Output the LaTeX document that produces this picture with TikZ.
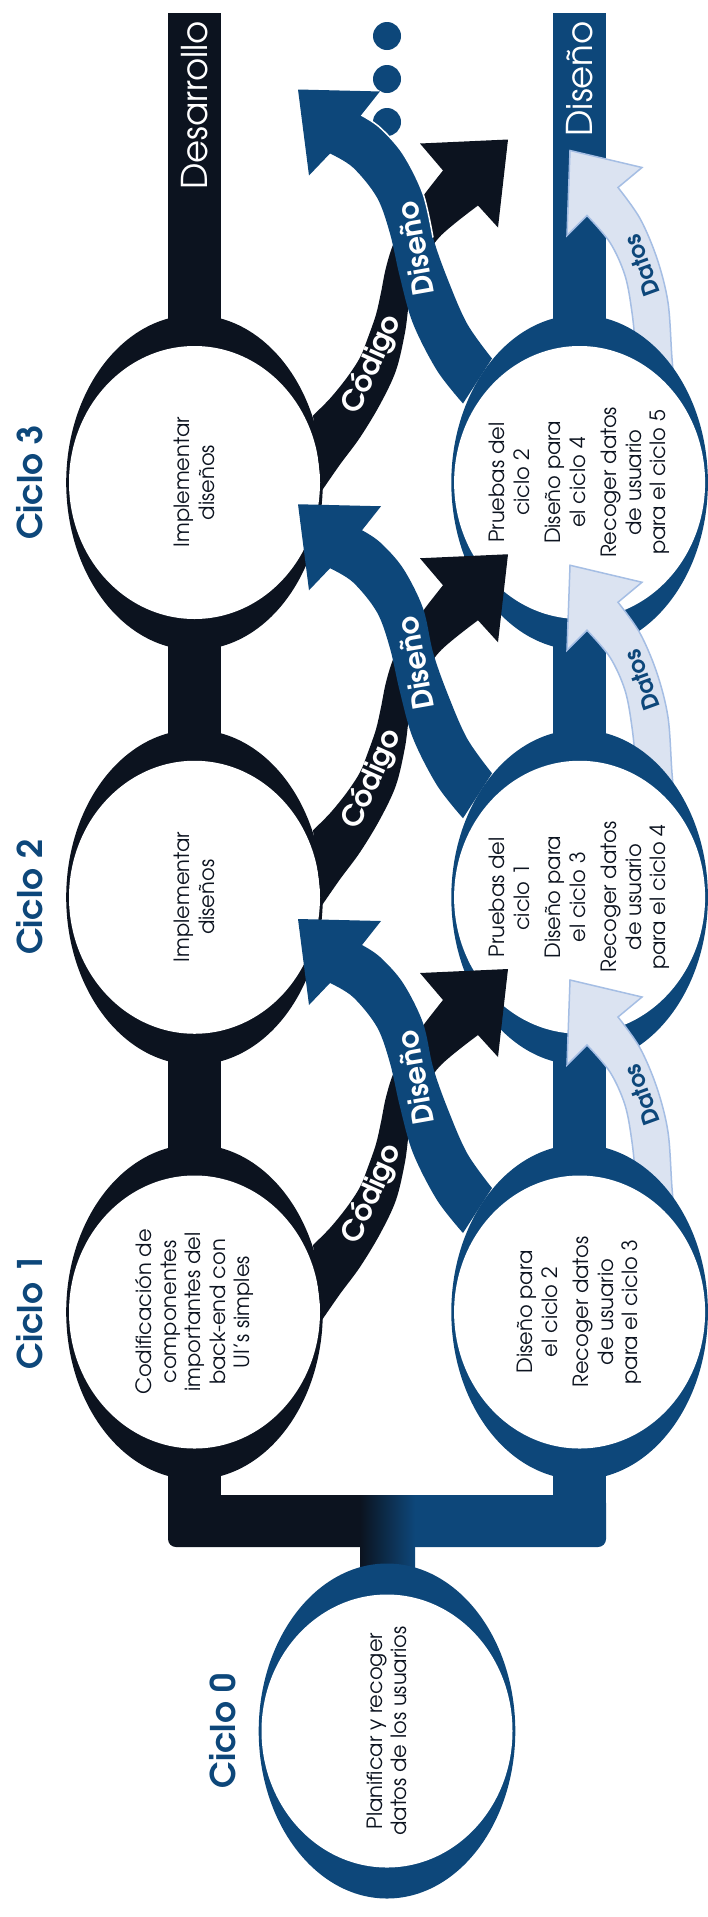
\documentclass[tikz,border=0pt]{standalone}
\usepackage{fontspec}
\setmainfont{texgyreadventor}[Extension=.otf,UprightFont=*-regular,BoldFont=*-bold,ItalicFont=*-italic,BoldItalicFont=*-bolditalic]
\definecolor{dk}{RGB}{12,19,31}
\definecolor{bl}{RGB}{13,71,122}
\definecolor{dfill}{RGB}{219,227,241}
\definecolor{dline}{RGB}{165,190,228}
\newcommand{\ringnode}[3]{%
  \fill[#3] (#1,#2) ellipse [x radius=128.3pt, y radius=167.5pt];
  \fill[white] (#1,#2) ellipse [x radius=125.5pt, y radius=136.5pt];}
\newcommand{\drawDatos}[1]{%
  \begin{scope}[shift={(0,#1)}]
  \filldraw[fill=dfill, draw=dline, line width=1.5pt, line join=miter]
    plot[smooth,tension=0.55] coordinates {(676,-80) (672,-124) (668,-180) (657,-224) (640,-264) (618,-295)}
    -- (642,-315) -- (570,-332) -- (567,-247)
    -- plot[smooth,tension=0.55] coordinates {(587,-267) (610,-240) (625,-207) (632,-170) (636,-130) (638,-100)}
    -- cycle;
  \end{scope}}
\begin{document}
\begin{tikzpicture}[x=1pt,y=-1pt,
  body/.style={rotate=90, align=center, font=\fontsize{21}{24.5}\selectfont, text=dk, inner sep=0pt},
  ciclo/.style={rotate=90, font=\fontsize{34}{40}\selectfont\bfseries, text=bl, inner sep=0pt},
  barlabel/.style={rotate=90, anchor=east, font=\fontsize{35.5}{40}\selectfont, text=white, inner sep=0pt},
  arrlabel/.style={font=\fontsize{29}{34}\selectfont\bfseries, text=white, inner sep=0pt},
  datlabel/.style={font=\fontsize{23}{28}\selectfont\bfseries, text=bl, inner sep=0pt}]
\useasboundingbox (0,0) rectangle (707,1917);
\fill[white] (0,0) rectangle (707,1917);
% bars
\fill[dk] (168,13) rectangle (221,1520);
\fill[dk, rounded corners=8pt] (168,1495) rectangle (372,1547);
\fill[bl] (553,13) rectangle (606,1520);
\fill[bl, rounded corners=8pt] (403,1495) rectangle (606,1547);
\shade[left color=dk, right color=bl] (360,1495) rectangle (415,1590);
% dots
\fill[bl] (387,36) circle (14pt);
\fill[bl] (387,79) circle (14pt);
\fill[bl] (387,122) circle (14pt);
% cycles
\drawDatos{482.5}
\ringnode{194.5}{482.5}{dk}
\ringnode{579.6}{482.5}{bl}
\drawDatos{897.25}
\ringnode{194.5}{897.25}{dk}
\ringnode{579.6}{897.25}{bl}
\drawDatos{1312}
\ringnode{194.5}{1312}{dk}
\ringnode{579.6}{1312}{bl}
\ringnode{387}{1731}{bl}
% Codigo and Diseno arrows
\foreach \yc in {482.5,897.25,1312}{
  \begin{scope}[shift={(0,\yc)}]
  \fill[dk] plot[smooth,tension=0.55] coordinates {(322,8) (340,-18) (360,-45) (380,-78) (396,-112) (405,-150) (410,-185) (420,-215) (440,-246) (478,-277)}
    -- (498,-255) -- (508,-343) -- (420,-339)
    -- plot[smooth,tension=0.55] coordinates {(443,-312) (425,-289) (408,-265) (394,-240) (386,-215) (381,-190) (376,-168) (368,-145) (360,-125) (347,-105) (330,-84) (313,-67)}
    -- cycle;
  \fill[bl] plot[smooth,tension=0.55] coordinates {(492,-124) (467,-159) (447,-205) (433,-245) (423,-289) (403,-329) (380,-355) (362,-367)}
    -- (381,-391) -- (298,-393) -- (309,-307)
    -- plot[smooth,tension=0.55] coordinates {(330,-329) (353,-315) (377,-285) (390,-249) (400,-205) (413,-159) (437,-112) (463,-79)}
    -- cycle;
  \end{scope}
}
% thin white edge between the top arrow and the last dot
\begin{scope}[shift={(0,482.5)}]
\draw[white, line width=1.5pt] plot[smooth,tension=0.55] coordinates {(433,-245) (423,-289) (403,-329) (380,-355) (362,-367)} -- (381,-391);
\end{scope}
% arrow labels
\foreach \yc in {482.5,897.25,1312}{
  \begin{scope}[shift={(0,\yc)}]
  \node[arrlabel, rotate=66] at (372,-118) {Código};
  \node[arrlabel, rotate=100] at (415,-234) {Diseño};
  \node[datlabel, rotate=110] at (642,-217) {Datos};
  \end{scope}
}
% bar labels
\node[barlabel] (lblDes) at (195,21) {Desarrollo};
\node[barlabel] (lblDis) at (580,21) {Diseño};
% cycle labels
\node[ciclo] (c3) at (30,482.5) {Ciclo 3};
\node[ciclo] (c2) at (30,897.25) {Ciclo 2};
\node[ciclo] (c1) at (30,1312) {Ciclo 1};
\node[ciclo] (c0) at (223,1731) {Ciclo 0};
% texts
\node[body] (d3) at (194.5,482.5) {Implementar\\diseños};
\node[body] (d2) at (194.5,897.25) {Implementar\\diseños};
\node[body] (d1) at (194.5,1312) {Codificación de\\componentes\\importantes del\\back-end con\\UI's simples};
\node[body] (b3) at (579.6,482.5) {Pruebas del\\ciclo 2\\[7pt]Diseño para\\el ciclo 4\\[7pt]Recoger datos\\de usuario\\para el ciclo 5};
\node[body] (b2) at (579.6,897.25) {Pruebas del\\ciclo 1\\[7pt]Diseño para\\el ciclo 3\\[7pt]Recoger datos\\de usuario\\para el ciclo 4};
\node[body] (b1) at (579.6,1312) {Diseño para\\el ciclo 2\\[7pt]Recoger datos\\de usuario\\para el ciclo 3};
\node[body] (p0) at (387,1731) {Planificar y recoger\\datos de los usuarios};
\end{tikzpicture}
\end{document}
